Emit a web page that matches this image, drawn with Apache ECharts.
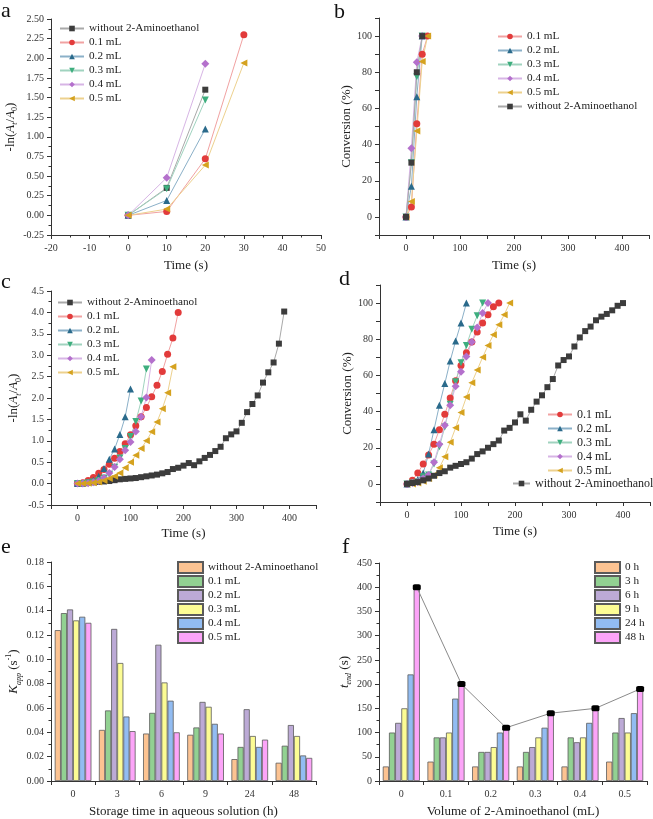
<!DOCTYPE html>
<html><head><meta charset="utf-8">
<script src="https://cdn.jsdelivr.net/npm/echarts@6/dist/echarts.min.js"></script>
<style>html,body{margin:0;padding:0;background:#fff}#c{width:653px;height:819px}</style>
</head><body><div id="c"></div>
<script>
// ---------- DATA ----------
const tAll = [0,10,20,30,40,50,60,70,80,90,100,110,120,130,140,150,160,170,180,190,200,210,220,230,240,250,260,270,280,290,300,310,320,330,340,350,360,370,380,390,400];
const seriesLabels = ['without 2-Aminoethanol','0.1 mL','0.2 mL','0.3 mL','0.4 mL','0.5 mL'];

// panel a: -ln(At/A0) vs time
const a_without = [0,0.35,1.60];
const a_01 = [0,0.05,0.72,2.30];
const a_02 = [0,0.19,1.10];
const a_03 = [0,0.34,1.47];
const a_04 = [0,0.48,1.93];
const a_05 = [0,0.08,0.64,1.94];

// panel b: conversion vs time
const b_01 = [0,5.5,51.5,90,100];
const b_02 = [0,17,66.5,100];
const b_03 = [0,30,77.5,100];
const b_04 = [0,38,85.5,100];
const b_05 = [0,8.5,47.5,86,100];
const b_without = [0,30,80,100];

// panel c: -ln(At/A0) vs time
const c_without = [0,0.01,0.02,0.03,0.04,0.05,0.06,0.08,0.10,0.11,0.12,0.13,0.15,0.17,0.19,0.21,0.24,0.27,0.34,0.37,0.42,0.48,0.43,0.52,0.60,0.67,0.76,0.86,1.06,1.15,1.22,1.42,1.67,1.86,2.06,2.36,2.60,2.83,3.27,4.02];
const c_01 = [0,0.02,0.07,0.14,0.24,0.33,0.45,0.59,0.75,0.93,1.14,1.35,1.56,1.78,2.03,2.30,2.62,3.02,3.40,4.00];
const c_02 = [0,0.01,0.03,0.08,0.17,0.35,0.57,0.81,1.15,1.56,2.21];
const c_03 = [0,0,0.02,0.04,0.07,0.13,0.21,0.38,0.60,0.82,1.10,1.45,1.93,2.68];
const c_04 = [0,0,0.01,0.03,0.06,0.13,0.25,0.39,0.57,0.78,0.97,1.22,1.56,2.01,2.89];
const c_05 = [0,0,0.01,0.02,0.04,0.07,0.12,0.17,0.25,0.37,0.50,0.66,0.82,1.00,1.21,1.44,1.75,2.12,2.73];

// panel d: conversion vs time
const d_01 = [0,2,6,11,16,22,30,38.5,47.5,57,65.5,72.5,78.5,84,89,93.5,98,100];
const d_02 = [0,1,2.5,6,16.5,30,43.5,55.5,68,79,89,100];
const d_03 = [0,0.5,1,4,5,11,20.5,31.5,44,56.5,67,76.5,85.5,93,100];
const d_04 = [0,0.5,1,3,5,12,22,32.5,43.5,54,62,70.5,78.5,86.5,94.5,100];
const d_05 = [0,0,0.5,1.5,3,5,9,15,23,31,39.5,48,56,63,70,76.5,82.5,88,93.5,100];
const d_without = [0,0.5,1,2,3,4.5,6,7,9,10,11,12,14,16.5,18,20,22,24,29.5,31,34,38.5,35,41,45.5,49,53.5,58,65.5,68.5,70.5,76,81,84.5,87,90.5,92.5,94,96,98.5,100];

// panel e: Kapp vs storage time
const eCategories = ['0','3','6','9','24','48'];
const e_without = [0.124,0.042,0.039,0.038,0.018,0.015];
const e_01 = [0.138,0.058,0.056,0.044,0.028,0.029];
const e_02 = [0.141,0.125,0.112,0.065,0.059,0.046];
const e_03 = [0.132,0.097,0.081,0.061,0.037,0.037];
const e_04 = [0.135,0.053,0.066,0.047,0.028,0.021];
const e_05 = [0.130,0.041,0.040,0.039,0.034,0.019];

// panel f: t_end vs volume
const fCategories = ['0','0.1','0.2','0.3','0.4','0.5'];
const fLabels = ['0 h','3 h','6 h','9 h','24 h','48 h'];
const f_0h = [30,40,30,30,30,40];
const f_3h = [100,90,60,60,90,100];
const f_6h = [120,90,60,70,80,130];
const f_9h = [150,100,70,90,90,100];
const f_24h = [220,170,100,110,120,140];
const f_48h = [400,200,110,140,150,190];

// ---------- STYLE ----------
const FONT = 'Liberation Serif';
const AXC = '#333';
const TXT = '#222';
const styles = {
  without:{color:'#3c3c3c', line:'#a9a9a9', symbol:'rect', rot:0, size:6},
  s01:{color:'#e23b3b', line:'#f1a2a2', symbol:'circle', rot:0, size:7},
  s02:{color:'#2a6a8b', line:'#8bb0c8', symbol:'triangle', rot:0, size:7},
  s03:{color:'#3eae7e', line:'#a0d3bf', symbol:'triangle', rot:180, size:7},
  s04:{color:'#b470cc', line:'#d7b5e5', symbol:'diamond', rot:0, size:8},
  s05:{color:'#d5a21f', line:'#edd18e', symbol:'triangle', rot:90, size:7}
};
const barColors = ['#fcc392','#92d192','#bcaad6','#fcfc94','#92bcf2','#fca4f8'];

const grids = [
  {left:51, top:19, width:270, height:216},
  {left:379, top:18, width:270, height:217},
  {left:51, top:291, width:265, height:214},
  {left:380, top:285, width:270, height:217},
  {left:51, top:562, width:265, height:220},
  {left:379, top:563, width:268, height:218}
];

const richName = {
  t:{fontFamily:FONT, fontSize:13, color:TXT, lineHeight:18, verticalAlign:'middle'},
  i:{fontFamily:FONT, fontSize:13, color:TXT, fontStyle:'italic', lineHeight:18, verticalAlign:'middle'},
  s:{fontFamily:FONT, fontSize:8, color:TXT, fontStyle:'italic', lineHeight:8, verticalAlign:'bottom'},
  n:{fontFamily:FONT, fontSize:8, color:TXT, lineHeight:8, verticalAlign:'bottom'},
  p:{fontFamily:FONT, fontSize:8, color:TXT, lineHeight:8, verticalAlign:'top'}
};

function baseAxis(gi, extra) {
  return Object.assign({
    gridIndex: gi,
    axisLine:{show:true, onZero:false, lineStyle:{color:AXC, width:1}},
    axisTick:{show:true, inside:false, length:4, lineStyle:{color:AXC}},
    minorTick:{show:false},
    splitLine:{show:false},
    axisLabel:{fontFamily:FONT, fontSize:10, color:'#333', margin:8},
    nameTextStyle:{fontFamily:FONT, fontSize:13, color:TXT, rich:richName},
    nameLocation:'middle'
  }, extra);
}
const minor = {show:true, splitNumber:2, length:2.5, lineStyle:{color:AXC}};
const timeAxisFmt = v => (v >= 0 && v <= 400 && v % 100 === 0) ? String(v) : '';
const convFmt = v => (v >= 0 && v <= 100 && v % 20 === 0) ? String(v) : '';
const xLab = f => ({fontFamily:FONT, fontSize:10, color:'#333', margin:8, formatter:f});

const xAxes = [
  baseAxis(0, {type:'value', min:-20, max:50, interval:10, minorTick:minor, name:'Time (s)', nameGap:24}),
  baseAxis(1, {type:'value', min:-50, max:450, interval:50, axisLabel:xLab(timeAxisFmt), name:'Time (s)', nameGap:24}),
  baseAxis(2, {type:'value', min:-50, max:450, interval:50, axisLabel:xLab(timeAxisFmt), name:'Time (s)', nameGap:22}),
  baseAxis(3, {type:'value', min:-50, max:450, interval:50, axisLabel:xLab(timeAxisFmt), name:'Time (s)', nameGap:23}),
  baseAxis(4, {type:'category', data:eCategories, name:'Storage time in aqueous solution (h)', nameGap:24}),
  baseAxis(5, {type:'category', data:fCategories, name:'Volume of 2-Aminoethanol (mL)', nameGap:24}),
  {gridIndex:5, type:'value', min:-0.5, max:5.5, show:false}
];
const yAxes = [
  baseAxis(0, {type:'value', min:-0.25, max:2.5, interval:0.25, minorTick:minor,
    axisLabel:{fontFamily:FONT, fontSize:10, color:'#333', margin:7, formatter:v=>v.toFixed(2)},
    name:'{t|-ln(}{i|A}{s|t}{t|/}{i|A}{n|0}{t|)}', nameGap:30}),
  baseAxis(1, {type:'value', min:-10, max:110, interval:10,
    axisLabel:{fontFamily:FONT, fontSize:10, color:'#333', margin:7, formatter:convFmt},
    name:'Conversion (%)', nameGap:22}),
  baseAxis(2, {type:'value', min:-0.5, max:4.5, interval:0.5, minorTick:minor,
    axisLabel:{fontFamily:FONT, fontSize:10, color:'#333', margin:7, formatter:v=>v.toFixed(1)},
    name:'{t|-ln(}{i|A}{s|t}{t|/}{i|A}{n|0}{t|)}', nameGap:28}),
  baseAxis(3, {type:'value', min:-10, max:110, interval:10,
    axisLabel:{fontFamily:FONT, fontSize:10, color:'#333', margin:7, formatter:convFmt},
    name:'Conversion (%)', nameGap:22}),
  baseAxis(4, {type:'value', min:0, max:0.18, interval:0.02, minorTick:minor,
    axisLabel:{fontFamily:FONT, fontSize:10, color:'#333', margin:7, formatter:v=>v.toFixed(2)},
    name:'{i|K}{s|app}{t| (s}{p|-1}{t|)}', nameGap:28}),
  baseAxis(5, {type:'value', min:0, max:450, interval:50, minorTick:minor,
    axisLabel:{fontFamily:FONT, fontSize:10, color:'#333', margin:7},
    name:'{i|t}{s|end}{t| (s)}', nameGap:22})
];

function mkLine(panel, key, label, ys, gi) {
  const st = styles[key];
  return {
    type:'line', name: panel + '|' + label, xAxisIndex:gi, yAxisIndex:gi,
    data: ys.map((y, i) => [tAll[i], y]),
    symbol: st.symbol, symbolSize: st.size, symbolRotate: st.rot,
    itemStyle:{color: st.color},
    lineStyle:{color: st.line, width:1},
    emphasis:{disabled:true}
  };
}
const BAR_GAP_PCT = 17;
function mkBar(panel, label, ys, gi, color) {
  return {
    type:'bar', name: panel + '|' + label, xAxisIndex:gi, yAxisIndex:gi,
    data: ys, barGap:'0%', barCategoryGap: BAR_GAP_PCT + '%',
    itemStyle:{color: color, borderColor:'#5a5a5a', borderWidth:0.8},
    emphasis:{disabled:true}
  };
}

const series = [];
// a
series.push(mkLine('a','without',seriesLabels[0],a_without,0));
series.push(mkLine('a','s01',seriesLabels[1],a_01,0));
series.push(mkLine('a','s02',seriesLabels[2],a_02,0));
series.push(mkLine('a','s03',seriesLabels[3],a_03,0));
series.push(mkLine('a','s04',seriesLabels[4],a_04,0));
series.push(mkLine('a','s05',seriesLabels[5],a_05,0));
// b
series.push(mkLine('b','s01',seriesLabels[1],b_01,1));
series.push(mkLine('b','s02',seriesLabels[2],b_02,1));
series.push(mkLine('b','s03',seriesLabels[3],b_03,1));
series.push(mkLine('b','s04',seriesLabels[4],b_04,1));
series.push(mkLine('b','s05',seriesLabels[5],b_05,1));
series.push(mkLine('b','without',seriesLabels[0],b_without,1));
// c
series.push(mkLine('c','without',seriesLabels[0],c_without,2));
series.push(mkLine('c','s01',seriesLabels[1],c_01,2));
series.push(mkLine('c','s02',seriesLabels[2],c_02,2));
series.push(mkLine('c','s03',seriesLabels[3],c_03,2));
series.push(mkLine('c','s04',seriesLabels[4],c_04,2));
series.push(mkLine('c','s05',seriesLabels[5],c_05,2));
// d
series.push(mkLine('d','s01',seriesLabels[1],d_01,3));
series.push(mkLine('d','s02',seriesLabels[2],d_02,3));
series.push(mkLine('d','s03',seriesLabels[3],d_03,3));
series.push(mkLine('d','s04',seriesLabels[4],d_04,3));
series.push(mkLine('d','s05',seriesLabels[5],d_05,3));
series.push(mkLine('d','without',seriesLabels[0],d_without,3));
// e
[e_without,e_01,e_02,e_03,e_04,e_05].forEach((arr,k)=>series.push(mkBar('e',seriesLabels[k],arr,4,barColors[k])));
// f
[f_0h,f_3h,f_6h,f_9h,f_24h,f_48h].forEach((arr,k)=>series.push(mkBar('f',fLabels[k],arr,5,barColors[k])));
// f connecting line on top of the 48 h bars (offset derived from bar layout)
const grp = 1 - BAR_GAP_PCT/100;
const lastBarOffset = grp/2 - grp/6/2;
series.push({
  type:'line', name:'f48line', xAxisIndex:6, yAxisIndex:5,
  data: f_48h.map((v,i)=>[i + lastBarOffset, v]),
  symbol:'roundRect', symbolSize:[8,6], itemStyle:{color:'#000'},
  lineStyle:{color:'#8a8a8a', width:1}, z:5, emphasis:{disabled:true}
});

const fmt = n => n.split('|')[1];
function lineLegend(panel, order, left, top, fs, iw) {
  return {orient:'vertical', left, top, itemWidth:iw || 24, itemHeight:7, itemGap:1, padding:0,
    textStyle:{fontFamily:FONT, fontSize:fs, color:TXT, lineHeight:13}, formatter:fmt,
    data: order.map(l=>panel+'|'+l), selectedMode:false};
}
function barLegend(panel, labels, left, top) {
  return {orient:'vertical', left, top, itemWidth:25, itemHeight:11, itemGap:1, padding:0,
    textStyle:{fontFamily:FONT, fontSize:11.2, color:TXT, lineHeight:12}, formatter:fmt, icon:'rect',
    data: labels.map(l=>panel+'|'+l), selectedMode:false};
}
const orderB = seriesLabels.slice(1).concat([seriesLabels[0]]);
const legends = [
  lineLegend('a', seriesLabels, 59, 22, 11.2),
  lineLegend('b', orderB, 497, 30, 11.2),
  lineLegend('c', seriesLabels, 57, 296, 11.2),
  lineLegend('d', seriesLabels.slice(1), 547, 408, 12),
  lineLegend('d', [seriesLabels[0]], 512, 477, 12, 17),
  barLegend('e', seriesLabels, 177, 561),
  barLegend('f', fLabels, 594, 561)
];

const letters = [['a',7,12],['b',340,13],['c',7,283],['d',345,280],['e',7,548],['f',348,548]];
const graphic = letters.map(([t,x,y])=>({type:'text', left:x-6, top:y-12,
  style:{text:t, font:'22px "Liberation Serif"', fill:'#111'}}));

const chart = echarts.init(document.getElementById('c'), null, {renderer:'canvas'});
chart.setOption({
  animation:false,
  backgroundColor:'#fff',
  grid: grids,
  xAxis: xAxes,
  yAxis: yAxes,
  legend: legends,
  series: series,
  graphic: graphic
});
</script></body></html>
